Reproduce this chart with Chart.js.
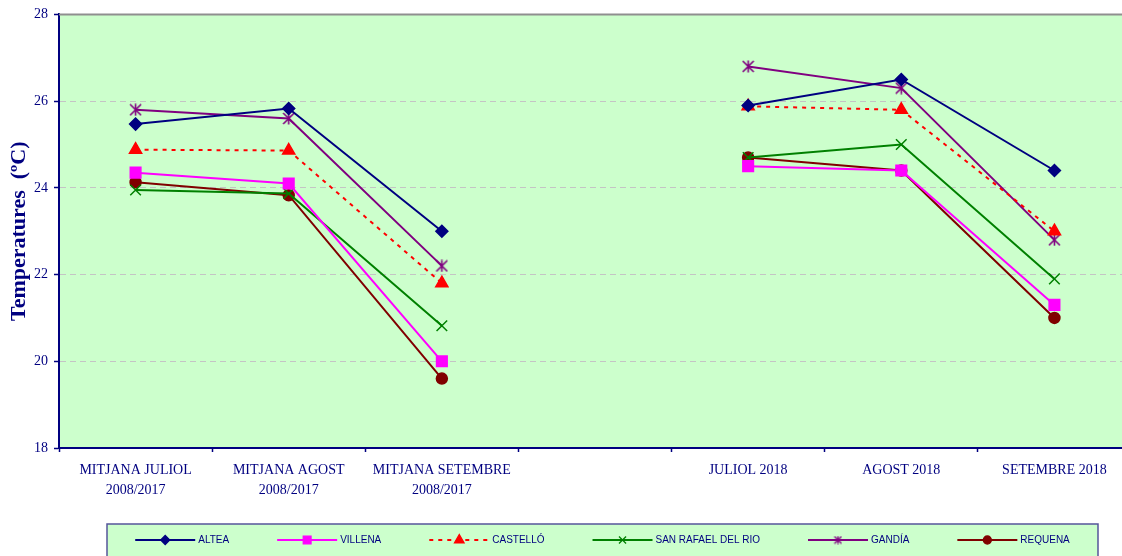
<!DOCTYPE html>
<html>
<head>
<meta charset="utf-8">
<script src="https://cdn.jsdelivr.net/npm/chart.js@4/dist/chart.umd.min.js"></script>
<style>
  html, body { margin: 0; padding: 0; background: #ffffff; overflow: hidden; }
  #wrap { position: relative; width: 1140px; height: 556px; }
</style>
</head>
<body>
<div id="wrap"><canvas id="c"></canvas></div>
<script>
// ---- Data ----
const categories = [
  ["MITJANA JULIOL", "2008/2017"],
  ["MITJANA AGOST", "2008/2017"],
  ["MITJANA SETEMBRE", "2008/2017"],
  "",
  "JULIOL 2018",
  "AGOST 2018",
  "SETEMBRE 2018"
];
const seriesNames = ["ALTEA", "VILLENA", "CASTELLÓ", "SAN RAFAEL DEL RIO", "GANDÍA", "REQUENA"];
const altea     = [25.47, 25.83, 23.0, null, 25.9, 26.5, 24.4];
const villena   = [24.35, 24.1, 20.0, null, 24.5, 24.4, 21.3];
const castello  = [24.88, 24.86, 21.8, null, 25.88, 25.8, 23.0];
const sanRafael = [23.95, 23.87, 20.82, null, 24.7, 25.0, 21.9];
const gandia    = [25.8, 25.6, 22.2, null, 26.8, 26.3, 22.8];
const requena   = [24.13, 23.83, 19.6, null, 24.7, 24.4, 21.0];
const yTicks = [18, 20, 22, 24, 26, 28];
const yTitle = "Temperatures  (ºC)";

// ---- Custom asterisk marker (X + vertical bar) ----
function makeStar(size, color, lw) {
  const cv = document.createElement('canvas');
  cv.width = size; cv.height = size;
  const g = cv.getContext('2d');
  const h = size / 2, r = h - 1;
  g.strokeStyle = color; g.lineWidth = lw; g.lineCap = 'butt';
  g.beginPath();
  g.moveTo(h - r, h - r); g.lineTo(h + r, h + r);
  g.moveTo(h + r, h - r); g.lineTo(h - r, h + r);
  g.moveTo(h, h - r - 0.5); g.lineTo(h, h + r + 0.5);
  g.stroke();
  return cv;
}
const starBig = makeStar(13, '#800080', 1.6);
const starSmall = makeStar(9, '#800080', 1.3);

const NAVY = '#000080';
const datasets = [
  { label: seriesNames[0], data: altea, borderColor: NAVY, backgroundColor: NAVY, pointStyle: 'rectRot', pointRadius: 6, legendRadius: 4.5 },
  { label: seriesNames[1], data: villena, borderColor: '#FF00FF', backgroundColor: '#FF00FF', pointStyle: 'rect', pointRadius: 7.5, legendRadius: 5.5 },
  { label: seriesNames[2], data: castello, borderColor: '#FF0000', backgroundColor: '#FF0000', pointStyle: 'triangle', pointRadius: 7, borderDash: [4, 5], legendRadius: 5.5 },
  { label: seriesNames[3], data: sanRafael, borderColor: '#008000', backgroundColor: '#008000', pointStyle: 'crossRot', pointRadius: 7.5, legendRadius: 5 },
  { label: seriesNames[4], data: gandia, borderColor: '#800080', backgroundColor: '#800080', pointStyle: starBig, pointRadius: 6, legendStyle: starSmall, legendRadius: 4 },
  { label: seriesNames[5], data: requena, borderColor: '#800000', backgroundColor: '#800000', pointStyle: 'circle', pointRadius: 5.5, legendRadius: 4 }
].map(d => Object.assign({
  borderWidth: 2, pointBorderWidth: 1.5, pointHoverRadius: d.pointRadius,
  pointBorderColor: d.borderColor, pointBackgroundColor: d.backgroundColor,
  spanGaps: false, tension: 0, fill: false
}, d));

// ---- Plugins ----
const plotBg = {
  id: 'plotBg',
  beforeDraw(chart) {
    const { ctx, chartArea: a } = chart;
    ctx.save();
    ctx.fillStyle = '#CCFFCC';
    ctx.fillRect(a.left, a.top, a.right - a.left, a.bottom - a.top);
    ctx.restore();
  }
};
const topLine = {
  id: 'topLine',
  beforeDatasetsDraw(chart) {
    const { ctx, chartArea: a, scales } = chart;
    const y = scales.y.getPixelForValue(yTicks[yTicks.length - 1]);
    ctx.save();
    ctx.strokeStyle = '#8f8f8f';
    ctx.lineWidth = 2;
    ctx.beginPath(); ctx.moveTo(a.left, y); ctx.lineTo(a.right + 10, y); ctx.stroke();
    ctx.restore();
  }
};
const customLegend = {
  id: 'customLegend',
  afterDraw(chart) {
    const { ctx } = chart;
    const boxL = 107, boxT = 524, boxR = 1098, boxB = 575;
    ctx.save();
    ctx.fillStyle = '#CCFFCC';
    ctx.fillRect(boxL, boxT, boxR - boxL, boxB - boxT);
    ctx.strokeStyle = '#55559a';
    ctx.lineWidth = 1.5;
    ctx.strokeRect(boxL, boxT, boxR - boxL, boxB - boxT);
    ctx.font = '10px "Liberation Sans", Arial, sans-serif';
    ctx.textBaseline = 'middle';
    const lineW = 60, gapText = 3, gapAfter = 48;
    const items = chart.data.datasets.map(ds => ({ ds, w: ctx.measureText(ds.label).width }));
    const total = items.reduce((s, it) => s + lineW + gapText + it.w + gapAfter, 0) - gapAfter;
    let x = (boxL + boxR) / 2 - total / 2;
    const y = 540;
    items.forEach(({ ds, w }) => {
      ctx.save();
      ctx.strokeStyle = ds.borderColor;
      ctx.lineWidth = 2;
      ctx.setLineDash(ds.borderDash || []);
      ctx.beginPath(); ctx.moveTo(x, y); ctx.lineTo(x + lineW, y); ctx.stroke();
      ctx.restore();
      ctx.save();
      ctx.fillStyle = ds.backgroundColor;
      ctx.strokeStyle = ds.borderColor;
      ctx.lineWidth = 1.3;
      const style = ds.legendStyle || ds.pointStyle;
      Chart.helpers.drawPoint(ctx, { pointStyle: style, radius: ds.legendRadius, rotation: 0, borderWidth: 1.3 }, x + lineW / 2, y);
      ctx.restore();
      ctx.fillStyle = NAVY;
      ctx.textAlign = 'left';
      ctx.fillText(ds.label, x + lineW + gapText, y + 0.5);
      x += lineW + gapText + w + gapAfter;
    });
    ctx.restore();
  }
};

new Chart(document.getElementById('c'), {
  type: 'line',
  data: { labels: categories, datasets },
  plugins: [plotBg, topLine, customLegend],
  options: {
    responsive: true,
    maintainAspectRatio: false,
    animation: false,
    devicePixelRatio: 1,
    layout: { padding: { left: 0, top: 12, right: 8, bottom: 56 } },
    plugins: { legend: { display: false }, tooltip: { enabled: false } },
    scales: {
      x: {
        type: 'category',
        offset: true,
        grid: { display: true, offset: true, drawOnChartArea: false, drawTicks: true, tickLength: 4, tickColor: NAVY, tickWidth: 1.5 },
        border: { display: true, color: NAVY, width: 2 },
        ticks: {
          color: NAVY, padding: 8, maxRotation: 0, autoSkip: false,
          font: { family: '"Liberation Serif", "Times New Roman", serif', size: 14, lineHeight: 1.45 }
        },
        afterFit(scale) { scale.height = 52; }
      },
      y: {
        min: yTicks[0], max: yTicks[yTicks.length - 1],
        afterBuildTicks(scale) { scale.ticks = yTicks.map(v => ({ value: v })); },
        grid: {
          color: c => (c.tick && c.tick.value > yTicks[0] && c.tick.value < yTicks[yTicks.length - 1]) ? '#c4c4c4' : 'rgba(0,0,0,0)',
          lineWidth: 1, drawTicks: true, tickLength: 5, tickColor: NAVY, tickWidth: 1.5
        },
        border: { display: true, color: NAVY, width: 2, dash: [6, 4] },
        ticks: {
          color: NAVY, padding: 6,
          font: { family: '"Liberation Serif", "Times New Roman", serif', size: 14 }
        },
        title: {
          display: true, text: yTitle, color: NAVY,
          font: { family: '"Liberation Serif", "Times New Roman", serif', size: 22, weight: 'bold' },
          padding: { top: 6, bottom: 0 }
        },
        afterFit(scale) { scale.width = 59; }
      }
    }
  }
});
</script>
</body>
</html>
